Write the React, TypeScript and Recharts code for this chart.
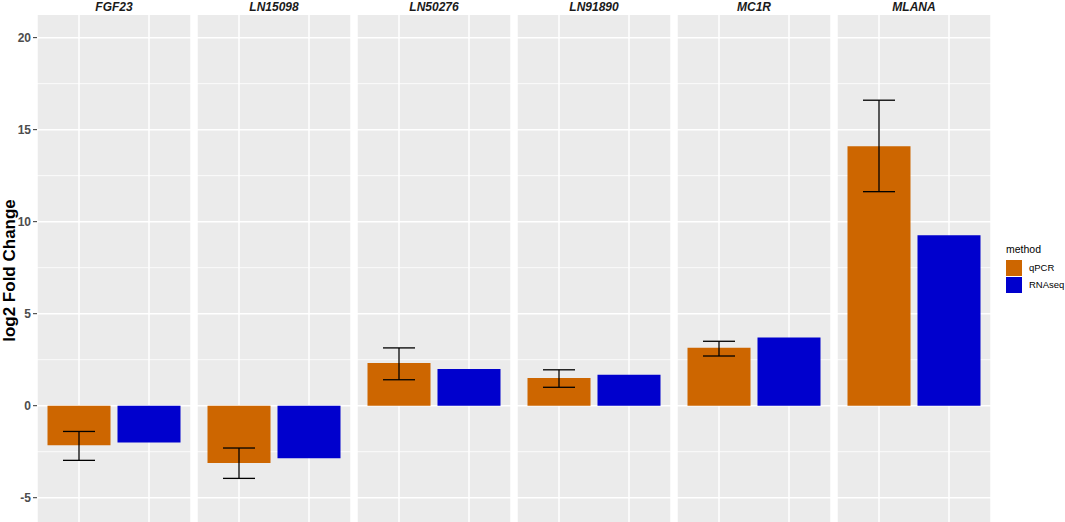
import { BarChart, Bar, XAxis, YAxis, CartesianGrid, ErrorBar, Cell } from 'recharts'

const genes = ['FGF23', 'LN15098', 'LN50276', 'LN91890', 'MC1R', 'MLANA']
const methods = ['qPCR', 'RNAseq']
const qpcr = [-2.15, -3.12, 2.32, 1.5, 3.15, 14.1]
const rnaseq = [-2.0, -2.86, 2.0, 1.68, 3.7, 9.26]
// qPCR error bar ends (low, high)
const qpcrLow = [-2.97, -3.95, 1.41, 1.0, 2.7, 11.63]
const qpcrHigh = [-1.4, -2.3, 3.14, 1.95, 3.5, 16.6]

const majorTicks = [-5, 0, 5, 10, 15, 20]
const minorTicks = [-2.5, 2.5, 7.5, 12.5, 17.5]

const colors: Record<string, string> = { qPCR: '#CD6600', RNAseq: '#0000CD' }
const font = '"Liberation Sans", Arial, sans-serif'

const PANEL_W = 154
const PANEL_STEP = 160
const AXIS_W = 37
const TOP = 15
const H = 507

const yLabel = (props: any) => {
  const vb = props.viewBox
  const cy = vb.y + vb.height / 2 + 2
  return (
    <text
      x={9}
      y={cy}
      transform={`rotate(-90 9 ${cy})`}
      textAnchor="middle"
      dominantBaseline="central"
      style={{ fontFamily: font, fontSize: 17, fontWeight: 'bold', fill: '#000' }}
    >
      log2 Fold Change
    </text>
  )
}

const Panel = ({ i }: { i: number }) => {
  const data = [
    { method: 'qPCR', value: qpcr[i], err: [qpcr[i] - qpcrLow[i], qpcrHigh[i] - qpcr[i]] },
    { method: 'RNAseq', value: rnaseq[i], err: null },
  ]
  const first = i === 0
  return (
    <BarChart
      width={first ? PANEL_W + AXIS_W : PANEL_W}
      height={H}
      data={data}
      margin={{ top: 0, right: 0, bottom: 0, left: 0 }}
      barCategoryGap="5%"
    >
      <CartesianGrid
        horizontalValues={minorTicks}
        vertical={false}
        stroke="#fff"
        strokeWidth={0.8}
        fill="#EBEBEB"
        fillOpacity={1}
      />
      <CartesianGrid horizontalValues={majorTicks} stroke="#fff" strokeWidth={1.5} />
      <XAxis dataKey="method" hide padding={{ left: 7, right: 7 }} />
      <YAxis
        type="number"
        domain={[-6.32, 21.23]}
        ticks={majorTicks}
        allowDataOverflow
        hide={!first}
        width={AXIS_W}
        axisLine={false}
        tickSize={4}
        tickMargin={2}
        tickLine={{ stroke: '#333', strokeWidth: 1 }}
        tick={{ fill: '#4D4D4D', fontSize: 12, fontWeight: 'bold', fontFamily: font }}
        label={first ? yLabel : undefined}
      />
      <Bar dataKey="value" isAnimationActive={false}>
        {data.map(d => (
          <Cell key={d.method} fill={colors[d.method]} />
        ))}
        <ErrorBar dataKey="err" width={16} stroke="#000" strokeWidth={1.3} />
      </Bar>
    </BarChart>
  )
}

const App = () => {
  return (
    <div
      style={{
        position: 'absolute',
        left: 0,
        top: 0,
        width: 1065,
        height: 522,
        background: '#fff',
        fontFamily: font,
        overflow: 'hidden',
      }}
    >
      {genes.map((g, i) => (
        <div key={g}>
          <div
            style={{
              position: 'absolute',
              left: AXIS_W + i * PANEL_STEP,
              top: 0,
              width: PANEL_W,
              textAlign: 'center',
              fontSize: 12,
              fontWeight: 'bold',
              fontStyle: 'italic',
              color: '#1A1A1A',
              lineHeight: '14px',
            }}
          >
            {g}
          </div>
          <div
            style={{
              position: 'absolute',
              left: i === 0 ? 0 : AXIS_W + i * PANEL_STEP,
              top: TOP,
            }}
          >
            <Panel i={i} />
          </div>
        </div>
      ))}

      {/* legend */}
      <div style={{ position: 'absolute', left: 1006, top: 243 }}>
        <div style={{ fontSize: 10.5, color: '#000', marginBottom: 4 }}>method</div>
        {methods.map(m => (
          <div key={m} style={{ display: 'flex', alignItems: 'center', height: 17 }}>
            <span
              style={{
                width: 16,
                height: 16,
                background: colors[m],
                display: 'inline-block',
                marginRight: 7,
              }}
            />
            <span style={{ fontSize: 9.5, color: '#000' }}>{m}</span>
          </div>
        ))}
      </div>
    </div>
  )
}

export default App
